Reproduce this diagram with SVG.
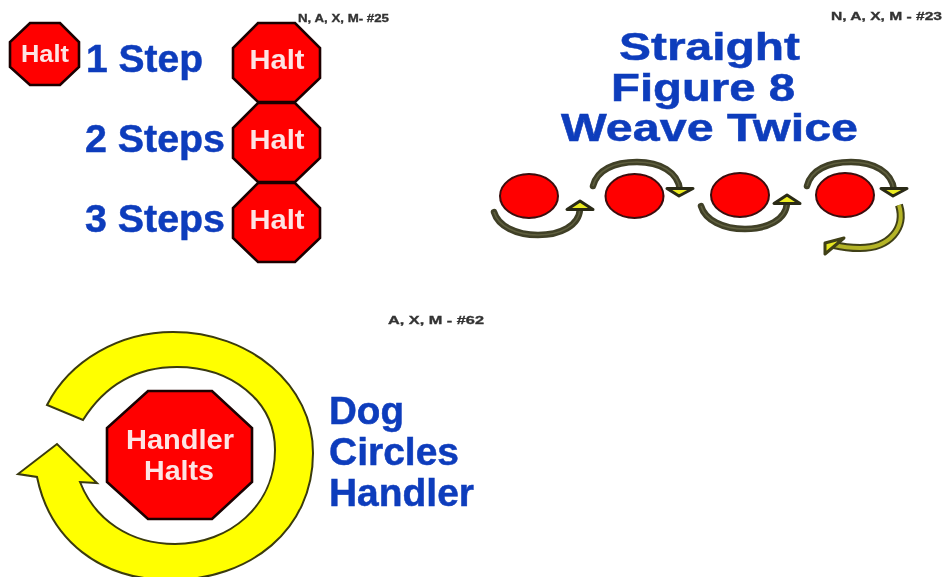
<svg xmlns="http://www.w3.org/2000/svg" width="942" height="577" viewBox="0 0 942 577">
<style>
text{font-family:"Liberation Sans",Arial,sans-serif;font-weight:bold}
.oct{fill:#f00;stroke:#1a0404;stroke-width:2.600}
.ht{fill:#fde4e4;text-anchor:middle}
.blue{fill:#0f3cbc;font-size:38px;stroke:#0f3cbc;stroke-width:.5}
.tag{fill:#333;font-size:10px;stroke:#333;stroke-width:.3}
.dot{fill:#f00;stroke:#3a0c0c;stroke-width:2}
.a{fill:none;stroke:#3f3f28;stroke-width:6.500;stroke-linecap:round}
.ai{fill:none;stroke:#5f5f3e;stroke-width:1.600}
.h{fill:#ecec20;stroke:#2a2a18;stroke-width:3;stroke-linejoin:round}
</style>
<defs>
<filter id="soft" x="-2%" y="-2%" width="104%" height="104%"><feGaussianBlur stdDeviation="0.7"/></filter>
<path id="under" d="M494,212C498,226 516,235 538,235C560,235 579,226 580,209"/>
<path id="over" d="M593,186C597,170 614,162 637,162C660,162 678,172 680,190"/>
</defs>
<rect width="942" height="577" fill="#fff"/>
<g filter="url(#soft)">
<g id="connectors">
<use href="#under" class="a"/><use href="#under" class="ai"/>
<polygon class="h" points="580,201 567,209.500 593,209.500"/>
<use href="#over" class="a"/><use href="#over" class="ai"/>
<polygon class="h" points="679,196 667,188.500 693,188.500"/>
<g transform="translate(207,-6)"><use href="#under" class="a"/><use href="#under" class="ai"/>
<polygon class="h" points="580,201 567,209.500 593,209.500"/></g>
<g transform="translate(214,0)"><use href="#over" class="a"/><use href="#over" class="ai"/>
<polygon class="h" points="679,196 667,188.500 693,188.500"/></g>
<path d="M899,205C906,228 890,248 860,248C850,248 842,247 834,245" fill="none" stroke="#3f3f18" stroke-width="8"/>
<path d="M899,205C906,228 890,248 860,248C850,248 842,247 834,245" fill="none" stroke="#b4b428" stroke-width="4"/>
<polygon points="825,243 844,238 825,254" fill="#e8e820" stroke="#3f3f18" stroke-width="3" stroke-linejoin="round"/>
<path id="big-arrow" d="M47,405C70,360 120,332 173,332C250,332 313,385 313,453C313,530 250,580 170,580C100,580 50,540 37,477L18,474L57,444L97,483L80,482C95,520 130,544 175,544C230,544 275,505 275,450C275,400 230,367 177,367C135,367 105,385 83,420Z" fill="#ffff00" stroke="#3a3a10" stroke-width="2"/>
</g>
<g id="halt-small"><polygon class="oct" points="30,23 60,23 79,42 79,67 60,85 30,85 10,67 10,42"/><text class="ht" x="45" y="62" font-size="24" textLength="48" lengthAdjust="spacingAndGlyphs">Halt</text></g>
<g id="halt-1"><polygon class="oct" points="258,23 295,23 320,48 320,78 295,102 258,102 233,78 233,48"/><text class="ht" x="277" y="69" font-size="27" textLength="55" lengthAdjust="spacingAndGlyphs">Halt</text></g>
<g id="halt-2"><polygon class="oct" points="258,103 295,103 320,128 320,158 295,182 258,182 233,158 233,128"/><text class="ht" x="277" y="149" font-size="27" textLength="55" lengthAdjust="spacingAndGlyphs">Halt</text></g>
<g id="halt-3"><polygon class="oct" points="258,183 295,183 320,208 320,238 295,262 258,262 233,238 233,208"/><text class="ht" x="277" y="229" font-size="27" textLength="55" lengthAdjust="spacingAndGlyphs">Halt</text></g>
<g id="handler-halts"><polygon class="oct" points="148,391 212,391 252,428 252,482 212,519 148,519 107,482 107,428"/><text class="ht" x="180" y="449" font-size="27" textLength="108" lengthAdjust="spacingAndGlyphs">Handler</text><text class="ht" x="179" y="480" font-size="27" textLength="70" lengthAdjust="spacingAndGlyphs">Halts</text></g>
<g id="dots"><ellipse class="dot" cx="529" cy="196" rx="29" ry="22"/><ellipse class="dot" cx="634.500" cy="196" rx="29" ry="22"/><ellipse class="dot" cx="740" cy="195" rx="29" ry="22"/><ellipse class="dot" cx="845" cy="195" rx="29" ry="22"/></g>
<g id="labels">
<text class="blue" x="86" y="72" textLength="117" lengthAdjust="spacingAndGlyphs">1 Step</text>
<text class="blue" x="85" y="152" textLength="140" lengthAdjust="spacingAndGlyphs">2 Steps</text>
<text class="blue" x="85" y="232" textLength="140" lengthAdjust="spacingAndGlyphs">3 Steps</text>
<text class="blue" x="619" y="60" textLength="181" lengthAdjust="spacingAndGlyphs">Straight</text>
<text class="blue" x="611" y="101" textLength="184" lengthAdjust="spacingAndGlyphs">Figure 8</text>
<text class="blue" x="561" y="141" textLength="297" lengthAdjust="spacingAndGlyphs">Weave Twice</text>
<text class="blue" x="329" y="424" textLength="75" lengthAdjust="spacingAndGlyphs">Dog</text>
<text class="blue" x="329" y="465" textLength="130" lengthAdjust="spacingAndGlyphs">Circles</text>
<text class="blue" x="329" y="506" textLength="145" lengthAdjust="spacingAndGlyphs">Handler</text>
<text class="tag" x="298" y="22" textLength="91" lengthAdjust="spacingAndGlyphs">N, A, X, M- #25</text>
<text class="tag" x="831" y="20" textLength="111" lengthAdjust="spacingAndGlyphs">N, A, X, M - #23</text>
<text class="tag" x="388" y="324" textLength="96" lengthAdjust="spacingAndGlyphs">A, X, M - #62</text>
</g>
</g>
</svg>
